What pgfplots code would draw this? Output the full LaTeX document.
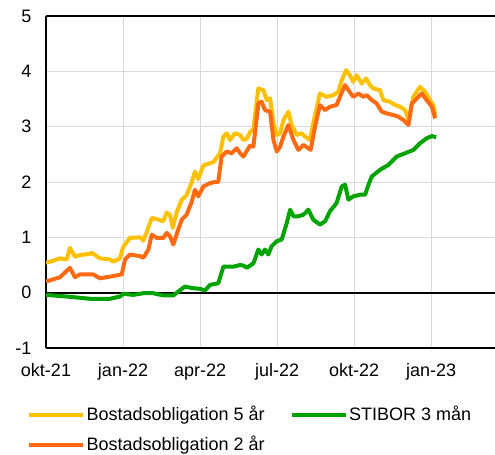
\documentclass[border=0pt]{standalone}
\usepackage{fontspec}
\setmainfont{Liberation Sans}
\usepackage{pgfplots}
\pgfplotsset{compat=1.18}

\definecolor{gul}{HTML}{FFC000}
\definecolor{orange2}{HTML}{FF6A13}
\definecolor{gron}{HTML}{00A300}
\definecolor{rutnat}{HTML}{D9D9D9}

\newcommand{\lblfont}{\fontsize{13.5}{16}\selectfont}

\begin{document}
\begin{tikzpicture}
  \begin{axis}[
      at={(0,0)}, anchor=south west,
      scale only axis,
      width=336.75pt, height=249pt,
      xmin=0, xmax=17.49,
      ymin=-1, ymax=5,
      axis x line=box, axis y line=left,
      axis line style={-, black, line width=1.5pt},
      every outer x axis line/.append style={-},
      every outer y axis line/.append style={-},
      xtick={0,3,6,9,12,15},
      xticklabels={okt-21,jan-22,apr-22,jul-22,okt-22,jan-23},
      ytick={-1,0,1,2,3,4,5},
      yticklabels={-1,0,1,2,3,4,5},
      major tick length=0pt,
      tick label style={font=\lblfont},
      xticklabel style={yshift=-8.25pt},
      yticklabel style={xshift=-7.5pt},
      grid=major,
      major grid style={rutnat, line width=0.75pt},
      extra y ticks={0},
      extra y tick labels={},
      extra y tick style={grid=major, major grid style={black, line width=1.5pt}},
      legend columns=2,
      legend image code/.code={\draw[#1, line width=3pt] (0pt,0pt) -- (40.5pt,0pt);},
      legend style={
        at={(0,0)}, anchor=north west,
        xshift=-14.25pt, yshift=-42.25pt,
        draw=none, fill=none, inner sep=0pt,
        font=\lblfont,
        row sep=7.5pt, column sep=1pt,
        nodes={inner sep=0pt, text height=12pt, text depth=3pt},
        /tikz/every even column/.append style={column sep=18.75pt},
      },
      legend cell align=left,
    ]

    % Bostadsobligation 5 år
    \addplot[gul, line width=3pt, line join=round] coordinates {
      (0,0.54) (0.16,0.56) (0.55,0.62) (0.81,0.60) (0.93,0.81) (1.13,0.65)
      (1.32,0.68) (1.71,0.70) (1.78,0.72) (2.10,0.62) (2.49,0.60) (2.62,0.56)
      (2.88,0.62) (3.01,0.83) (3.27,0.99) (3.66,1.00) (3.79,0.94) (3.92,1.09)
      (4.12,1.35) (4.31,1.33) (4.57,1.29) (4.70,1.45) (4.83,1.40) (4.94,1.17)
      (5.09,1.45) (5.29,1.68) (5.48,1.76) (5.68,2.00) (5.80,2.19) (5.93,2.05)
      (6.13,2.30) (6.32,2.33) (6.52,2.36) (6.65,2.44) (6.78,2.52) (6.91,2.82)
      (7.04,2.88) (7.17,2.76) (7.36,2.88) (7.56,2.85) (7.69,2.76) (7.82,2.78)
      (7.95,2.90) (8.08,2.96) (8.27,3.69) (8.47,3.66) (8.60,3.48) (8.73,3.51)
      (8.86,3.06) (8.99,2.85) (9.12,2.88) (9.25,3.12) (9.44,3.27) (9.57,3.03)
      (9.77,2.85) (9.96,2.88) (10.09,2.82) (10.28,2.76) (10.48,3.21) (10.67,3.60)
      (10.93,3.54) (11.19,3.57) (11.39,3.63) (11.52,3.84) (11.69,4.02) (11.84,3.93)
      (11.97,3.81) (12.10,3.93) (12.30,3.78) (12.47,3.87) (12.62,3.75) (12.75,3.69)
      (13.01,3.66) (13.14,3.48) (13.40,3.45) (13.60,3.39) (13.79,3.36) (13.99,3.30)
      (14.12,3.12) (14.31,3.54) (14.57,3.72) (14.77,3.63) (14.96,3.48) (15.09,3.39)
      (15.16,3.21)
    };
    \addlegendentry{Bostadsobligation 5 år}

    % STIBOR 3 mån
    \addplot[gron, line width=3pt, line join=round] coordinates {
      (0,-0.04) (0.81,-0.07) (1.71,-0.11) (2.49,-0.11) (2.88,-0.07) (3.01,-0.02)
      (3.40,-0.04) (3.79,-0.01) (4.18,-0.01) (4.57,-0.05) (4.96,-0.05) (5.15,0.02)
      (5.41,0.11) (5.74,0.08) (6.00,0.07) (6.19,0.04) (6.39,0.14) (6.71,0.17)
      (6.91,0.47) (7.30,0.47) (7.56,0.50) (7.69,0.49) (7.82,0.45) (8.08,0.53)
      (8.27,0.78) (8.40,0.69) (8.53,0.78) (8.66,0.69) (8.79,0.84) (8.99,0.93)
      (9.18,0.96) (9.38,1.26) (9.51,1.50) (9.64,1.38) (9.83,1.38) (10.03,1.41)
      (10.22,1.50) (10.41,1.32) (10.67,1.23) (10.87,1.29) (11.06,1.47) (11.32,1.62)
      (11.52,1.92) (11.65,1.95) (11.78,1.68) (11.97,1.74) (12.23,1.77) (12.43,1.77)
      (12.56,1.95) (12.69,2.10) (13.01,2.22) (13.34,2.31) (13.66,2.46) (13.99,2.52)
      (14.31,2.58) (14.57,2.70) (14.83,2.79) (15.03,2.83) (15.20,2.81)
    };
    \addlegendentry{STIBOR 3 mån}

    % Bostadsobligation 2 år
    \addplot[orange2, line width=3pt, line join=round] coordinates {
      (0,0.20) (0.55,0.28) (0.93,0.45) (1.13,0.28) (1.32,0.33) (1.84,0.33)
      (2.10,0.26) (2.62,0.30) (2.95,0.33) (3.08,0.60) (3.27,0.69) (3.66,0.66)
      (3.79,0.63) (3.99,0.78) (4.12,1.05) (4.31,0.99) (4.57,0.99) (4.70,1.08)
      (4.83,1.02) (4.96,0.87) (5.15,1.14) (5.29,1.32) (5.48,1.41) (5.68,1.65)
      (5.80,1.86) (5.93,1.74) (6.13,1.92) (6.39,1.98) (6.58,2.00) (6.71,2.00)
      (6.84,2.46) (7.04,2.55) (7.23,2.52) (7.43,2.61) (7.56,2.52) (7.69,2.46)
      (7.95,2.66) (8.08,2.64) (8.27,3.42) (8.40,3.45) (8.53,3.30) (8.73,3.27)
      (8.86,2.76) (8.99,2.55) (9.12,2.64) (9.25,2.82) (9.44,3.03) (9.64,2.76)
      (9.83,2.58) (10.03,2.67) (10.22,2.61) (10.31,2.58) (10.48,3.00) (10.67,3.39)
      (10.87,3.30) (11.06,3.36) (11.32,3.39) (11.45,3.54) (11.65,3.75) (11.78,3.66)
      (11.97,3.54) (12.17,3.60) (12.36,3.54) (12.49,3.57) (12.69,3.48) (12.88,3.42)
      (13.08,3.27) (13.27,3.24) (13.53,3.21) (13.73,3.18) (13.92,3.12) (14.12,3.03)
      (14.25,3.42) (14.44,3.51) (14.64,3.60) (14.83,3.48) (15.03,3.36) (15.16,3.15)
    };
    \addlegendentry{Bostadsobligation 2 år}
  \end{axis}
  \pgfresetboundingbox
  \path[use as bounding box] (-34.5pt,-79.5pt) rectangle (336.75pt,261pt);
\end{tikzpicture}
\end{document}
